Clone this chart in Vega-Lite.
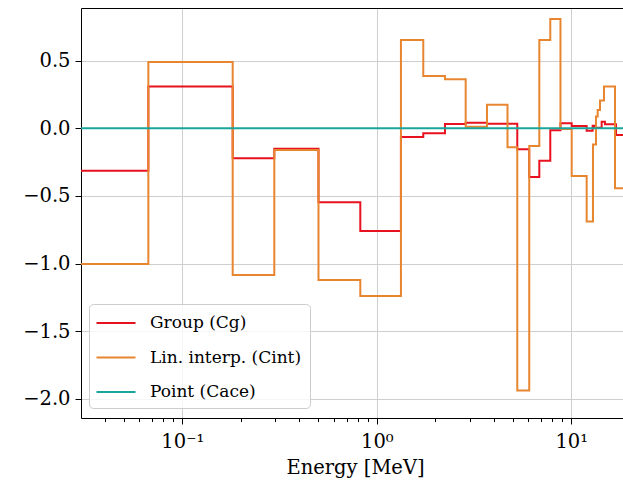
{
  "$schema": "https://vega.github.io/schema/vega-lite/v6.json",
  "width": 542,
  "height": 410,
  "autosize": {"type": "none"},
  "padding": {"left": 81, "top": 8, "right": 0, "bottom": 63},
  "background": "white",
  "config": {"view": {"stroke": null}, "font": "DejaVu Serif"},
  "data": {
    "values": [
      {"series": "Group (Cg)", "E": 0.02, "C": -0.314},
      {"series": "Group (Cg)", "E": 0.0669, "C": 0.31},
      {"series": "Group (Cg)", "E": 0.1816, "C": -0.222},
      {"series": "Group (Cg)", "E": 0.2972, "C": -0.152},
      {"series": "Group (Cg)", "E": 0.5015, "C": -0.547},
      {"series": "Group (Cg)", "E": 0.8227, "C": -0.76},
      {"series": "Group (Cg)", "E": 1.331, "C": -0.064},
      {"series": "Group (Cg)", "E": 1.734, "C": -0.037},
      {"series": "Group (Cg)", "E": 2.242, "C": 0.032},
      {"series": "Group (Cg)", "E": 2.865, "C": 0.041},
      {"series": "Group (Cg)", "E": 3.686, "C": 0.034},
      {"series": "Group (Cg)", "E": 5.277, "C": -0.155},
      {"series": "Group (Cg)", "E": 6.08, "C": -0.36},
      {"series": "Group (Cg)", "E": 6.85, "C": -0.24},
      {"series": "Group (Cg)", "E": 7.8, "C": -0.015},
      {"series": "Group (Cg)", "E": 8.8, "C": 0.038},
      {"series": "Group (Cg)", "E": 10.05, "C": 0.017},
      {"series": "Group (Cg)", "E": 12.0, "C": -0.018},
      {"series": "Group (Cg)", "E": 12.88, "C": 0.019},
      {"series": "Group (Cg)", "E": 13.19, "C": 0.004},
      {"series": "Group (Cg)", "E": 14.33, "C": 0.049},
      {"series": "Group (Cg)", "E": 14.9, "C": 0.03},
      {"series": "Group (Cg)", "E": 16.98, "C": -0.05},
      {"series": "Group (Cg)", "E": 20, "C": -0.05},
      {"series": "Lin. interp. (Cint)", "E": 0.02, "C": -1.004},
      {"series": "Lin. interp. (Cint)", "E": 0.0669, "C": 0.49},
      {"series": "Lin. interp. (Cint)", "E": 0.1816, "C": -1.085},
      {"series": "Lin. interp. (Cint)", "E": 0.2972, "C": -0.16},
      {"series": "Lin. interp. (Cint)", "E": 0.5015, "C": -1.122},
      {"series": "Lin. interp. (Cint)", "E": 0.8227, "C": -1.24},
      {"series": "Lin. interp. (Cint)", "E": 1.331, "C": 0.653},
      {"series": "Lin. interp. (Cint)", "E": 1.734, "C": 0.387},
      {"series": "Lin. interp. (Cint)", "E": 2.242, "C": 0.362},
      {"series": "Lin. interp. (Cint)", "E": 2.865, "C": 0.012},
      {"series": "Lin. interp. (Cint)", "E": 3.686, "C": 0.175},
      {"series": "Lin. interp. (Cint)", "E": 4.7, "C": -0.14},
      {"series": "Lin. interp. (Cint)", "E": 5.277, "C": -1.94},
      {"series": "Lin. interp. (Cint)", "E": 6.08, "C": -0.131},
      {"series": "Lin. interp. (Cint)", "E": 6.85, "C": 0.653},
      {"series": "Lin. interp. (Cint)", "E": 7.8, "C": 0.808},
      {"series": "Lin. interp. (Cint)", "E": 8.8, "C": -0.005},
      {"series": "Lin. interp. (Cint)", "E": 10.05, "C": -0.353},
      {"series": "Lin. interp. (Cint)", "E": 12.0, "C": -0.69},
      {"series": "Lin. interp. (Cint)", "E": 12.93, "C": -0.12},
      {"series": "Lin. interp. (Cint)", "E": 13.4, "C": 0.088},
      {"series": "Lin. interp. (Cint)", "E": 13.67, "C": 0.135},
      {"series": "Lin. interp. (Cint)", "E": 14.05, "C": 0.206},
      {"series": "Lin. interp. (Cint)", "E": 14.73, "C": 0.31},
      {"series": "Lin. interp. (Cint)", "E": 16.78, "C": -0.444},
      {"series": "Lin. interp. (Cint)", "E": 20, "C": -0.444},
      {"series": "Point (Cace)", "E": 0.02, "C": 0},
      {"series": "Point (Cace)", "E": 20, "C": 0}
    ]
  },
  "layer": [
    {
      "mark": {"type": "line", "interpolate": "step-after", "strokeWidth": 2, "clip": true},
      "encoding": {
        "x": {
          "field": "E",
          "type": "quantitative",
          "scale": {"type": "log", "domain": [0.03014, 18.45], "nice": false},
          "axis": {
            "orient": "bottom",
            "title": "Energy [MeV]",
            "titleFont": "DejaVu Serif",
            "titleFontSize": 19.5,
            "titleFontWeight": "normal",
            "titleColor": "black",
            "titlePadding": 8,
            "titleX": 274,
            "values": [0.04, 0.05, 0.06, 0.07, 0.08, 0.09, 0.1, 0.2, 0.3, 0.4, 0.5, 0.6, 0.7, 0.8, 0.9, 1, 2, 3, 4, 5, 6, 7, 8, 9, 10],
            "labelExpr": "datum.value == 0.1 ? '10⁻¹' : datum.value == 1 ? '10⁰' : datum.value == 10 ? '10¹' : ''",
            "labelFont": "DejaVu Serif",
            "labelFontSize": 19.5,
            "labelColor": "black",
            "labelPadding": 8,
            "labelFlush": false,
            "labelOverlap": false,
            "tickColor": "black",
            "tickSize": {"condition": {"test": "datum.value == 0.1 || datum.value == 1 || datum.value == 10", "value": 6}, "value": 3.5},
            "tickWidth": 1,
            "domainColor": "black",
            "domainWidth": 1,
            "grid": true,
            "gridColor": "#cfcfcf",
            "gridWidth": 1,
            "gridOpacity": {"condition": {"test": "datum.value == 0.1 || datum.value == 1 || datum.value == 10", "value": 1}, "value": 0}
          }
        },
        "y": {
          "field": "C",
          "type": "quantitative",
          "scale": {"domain": [-2.1427, 0.8898], "nice": false, "zero": false},
          "axis": {
            "title": null,
            "values": [-2, -1.5, -1, -0.5, 0, 0.5],
            "format": ".1f",
            "labelFont": "DejaVu Serif",
            "labelFontSize": 19.5,
            "labelColor": "black",
            "labelPadding": 5,
            "tickSize": 6,
            "tickColor": "black",
            "domainColor": "black",
            "domainWidth": 1,
            "grid": true,
            "gridColor": "#cfcfcf",
            "gridWidth": 1
          }
        },
        "color": {
          "field": "series",
          "type": "nominal",
          "scale": {
            "domain": ["Group (Cg)", "Lin. interp. (Cint)", "Point (Cace)"],
            "range": ["#e8111f", "#e8862f", "#18a69c"]
          },
          "legend": {
            "orient": "none",
            "legendX": 8,
            "legendY": 296,
            "title": null,
            "symbolType": "M-2,0H2",
            "symbolSize": 380,
            "symbolStrokeWidth": 2,
            "symbolOffset": 8,
            "labelFont": "DejaVu Serif",
            "labelFontSize": 17,
            "labelColor": "black",
            "labelOffset": 23,
            "fillColor": "rgba(255,255,255,0.8)",
            "strokeColor": "#cccccc",
            "cornerRadius": 4,
            "padding": 8,
            "rowPadding": 15.5
          }
        }
      }
    },
    {
      "mark": {"type": "line", "opacity": 0},
      "encoding": {
        "x": {
          "field": "E",
          "type": "quantitative",
          "axis": {"orient": "top", "labels": false, "ticks": false, "grid": false, "title": null, "domainColor": "black", "domainWidth": 1}
        },
        "y": {"field": "C", "type": "quantitative"}
      }
    }
  ],
  "resolve": {"axis": {"x": "independent"}}
}
